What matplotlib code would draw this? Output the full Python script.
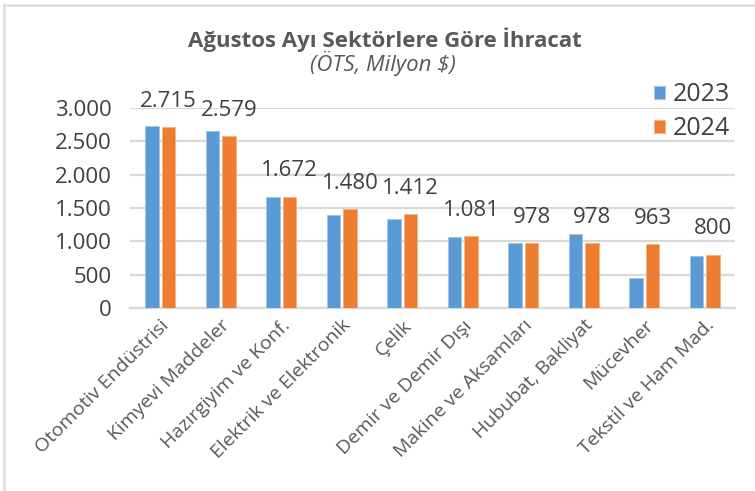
import matplotlib
matplotlib.use("Agg")
import matplotlib.pyplot as plt
from matplotlib.lines import Line2D
import numpy as np

categories = ["Otomotiv Endüstrisi", "Kimyevi Maddeler", "Hazırgiyim ve Konf.",
              "Elektrik ve Elektronik", "Çelik", "Demir ve Demir Dışı",
              "Makine ve Aksamları", "Hububat, Bakliyat", "Mücevher",
              "Tekstil ve Ham Mad."]
values_2023 = [2725, 2650, 1665, 1395, 1340, 1065, 970, 1105, 455, 780]
values_2024 = [2715, 2579, 1672, 1480, 1412, 1081, 978, 978, 963, 800]
labels_2024 = ["2.715", "2.579", "1.672", "1.480", "1.412", "1.081", "978", "978", "963", "800"]
yticks = [0, 500, 1000, 1500, 2000, 2500, 3000]
yticklabels = ["0", "500", "1.000", "1.500", "2.000", "2.500", "3.000"]

FONT = ["Open Sans", "DejaVu Sans"]
plt.rcParams["font.family"] = FONT
TXT = "#595959"
DARK = "#404040"
BLUE = "#5B9BD5"
ORANGE = "#ED7D31"

fig = plt.figure(figsize=(7.55, 4.91), dpi=100)
W, H = 755, 491
# outer border (top and left only visible)
fig.add_artist(Line2D([4 / W, 1.0], [1 - 5 / H, 1 - 5 / H], transform=fig.transFigure,
                      color="#DCDCDC", linewidth=1.8))
fig.add_artist(Line2D([4 / W, 4 / W], [0, 1 - 5 / H], transform=fig.transFigure,
                      color="#DCDCDC", linewidth=1.8))

ax = fig.add_axes([130 / W, 1 - 308 / H, 605 / W, 200 / H])
x = np.arange(len(categories))
bw = 0.225
gap = 0.025
ax.bar(x - bw / 2 - gap, values_2023, bw, color=BLUE, edgecolor="#9DC3E6", linewidth=0.6,
       label="2023", zorder=3)
ax.bar(x + bw / 2 + gap, values_2024, bw, color=ORANGE, edgecolor="#F4B183", linewidth=0.6,
       label="2024", zorder=3)

for xi, v, lab in zip(x, values_2024, labels_2024):
    ax.annotate(lab, (xi + bw / 2 + gap, v), xytext=(0, 11), textcoords="offset points",
                ha="center", va="bottom", fontsize=16, color=DARK,
                annotation_clip=False)

ax.set_xlim(-0.5, len(categories) - 0.5)
ax.set_ylim(0, 3000)
ax.set_yticks(yticks)
ax.set_yticklabels(yticklabels, fontsize=16, color=DARK)
ax.set_xticks(x)
ax.set_xticklabels(categories, rotation=45, ha="right", rotation_mode="anchor",
                   fontsize=14, color=TXT)
ax.tick_params(axis="both", length=0)
ax.tick_params(axis="y", pad=13)
ax.tick_params(axis="x", pad=6)
ax.grid(axis="y", color="#D9D9D9", linewidth=1.6, zorder=0)
ax.set_axisbelow(True)
for s in ["top", "right", "left"]:
    ax.spines[s].set_visible(False)
ax.spines["bottom"].set_color("#D9D9D9")
ax.spines["bottom"].set_linewidth(1.6)

leg = fig.legend(loc="upper left", bbox_to_anchor=(631 / W, 1 - 60 / H), frameon=False,
                 fontsize=18, handlelength=0.45, handleheight=0.45, handletextpad=0.3,
                 labelspacing=0.35, labelcolor=DARK)

fig.text(385 / W, 1 - 40 / H, "Ağustos Ayı Sektörlere Göre İhracat", ha="center", va="center",
         fontsize=16, fontweight="bold", color=TXT)
fig.text(383 / W, 1 - 63 / H, "(ÖTS, Milyon $)", ha="center", va="center",
         fontsize=16, style="italic", color=TXT)

fig.savefig("out.png", dpi=100)
